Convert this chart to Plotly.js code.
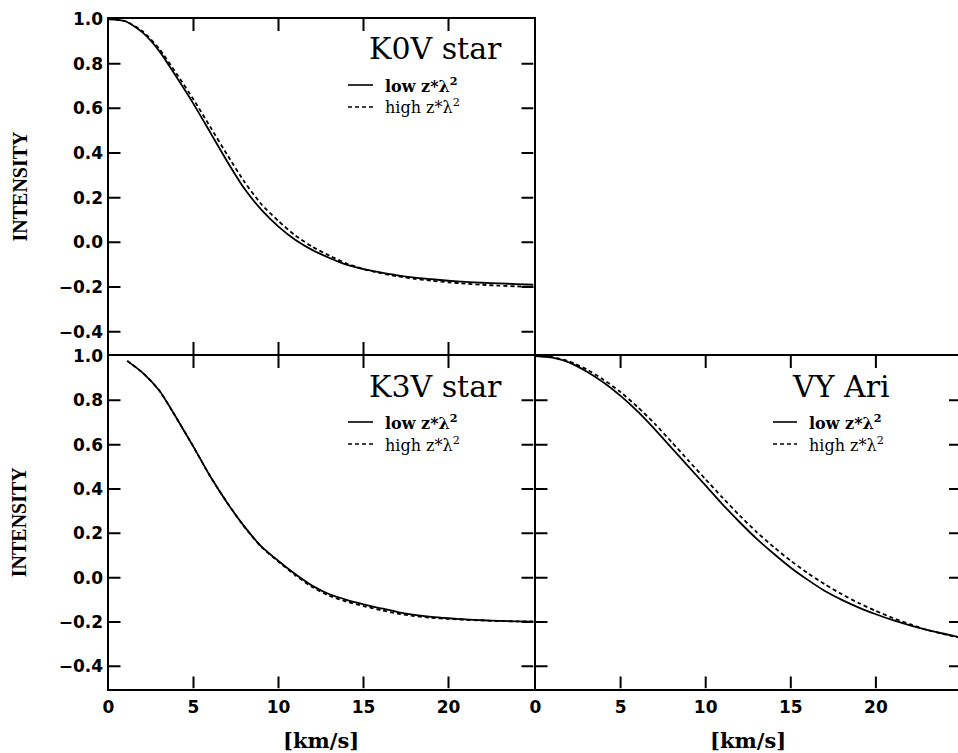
<!DOCTYPE html>
<html>
<head>
<meta charset="utf-8">
<script src="https://cdn.plot.ly/plotly-3.0.1.min.js"></script>
<style>
html, body { margin: 0; padding: 0; overflow: hidden; background: #fff; }
#chart { width: 962px; height: 753px; }
</style>
</head>
<body>
<div id="chart"></div>
<script>
// ---- Data ----
const xGrid = [0,1,2,3,4,5,6,7,8,9,10,11,12,13,14,15,16,17,18,19,20,21,22,23,24,25];

const k0vLow  = [1.000,0.990,0.940,0.855,0.740,0.620,0.490,0.360,0.240,0.145,0.070,0.010,-0.035,-0.070,-0.100,-0.120,-0.135,-0.148,-0.158,-0.165,-0.172,-0.177,-0.181,-0.184,-0.187,-0.190];
const k0vHigh = [1.000,0.990,0.945,0.865,0.755,0.640,0.515,0.390,0.270,0.170,0.095,0.030,-0.020,-0.060,-0.095,-0.120,-0.138,-0.152,-0.163,-0.172,-0.179,-0.185,-0.190,-0.194,-0.197,-0.200];

const k3vX    = [1.1,2,3,4,5,6,7,8,9,10,11,12,13,14,15,16,17,18,19,20,21,22,23,24,25];
const k3vLow  = [0.978,0.925,0.843,0.720,0.590,0.455,0.336,0.230,0.140,0.075,0.015,-0.037,-0.075,-0.100,-0.120,-0.138,-0.155,-0.168,-0.177,-0.183,-0.188,-0.192,-0.195,-0.197,-0.198];
const k3vHigh = [0.978,0.925,0.843,0.720,0.590,0.455,0.336,0.228,0.138,0.072,0.010,-0.043,-0.082,-0.108,-0.128,-0.146,-0.162,-0.173,-0.181,-0.186,-0.190,-0.193,-0.196,-0.197,-0.198];

const vyLow   = [1.000,0.993,0.970,0.930,0.880,0.820,0.750,0.670,0.585,0.500,0.415,0.330,0.250,0.175,0.108,0.045,-0.010,-0.060,-0.100,-0.135,-0.165,-0.192,-0.215,-0.235,-0.253,-0.270];
const vyHigh  = [1.000,0.995,0.975,0.940,0.893,0.837,0.770,0.695,0.612,0.527,0.443,0.360,0.280,0.205,0.138,0.076,0.020,-0.030,-0.075,-0.115,-0.150,-0.182,-0.210,-0.236,-0.255,-0.272];

const panelNames = ["K0V star", "K3V star", "VY Ari"];
const legendLow  = "<b>low z*λ<sup>2</sup></b>";
const legendHigh = "high z*λ<sup>2</sup>";
const xTickVals = [0,5,10,15,20];
const yTickVals = [-0.4,-0.2,0.0,0.2,0.4,0.6,0.8,1.0];
const xRange = [0, 25];
const yRange = [-0.5, 1.0];
const xTitle = "[km/s]";
const yTitle = "INTENSITY";

// ---- Layout geometry (pixels) ----
const W = 962, H = 753;
const px = v => v / W;
const py = v => 1 - v / H;
// domain edges chosen so the outward-drawn 2px axis lines coincide
const LX0 = 108.5, LX1 = 533.5, RX0 = 535.5, RX1 = 961;
const TY0 = 19, TY1 = 354, BY0 = 356, BY1 = 688.5;
const TICKLEN = 12;

const lineSolid = {color: '#000', width: 1.8, shape: 'spline', smoothing: 0.6};
const lineDash  = {color: '#000', width: 1.8, dash: '4px,3px', shape: 'spline', smoothing: 0.6};

const traces = [
  {x: xGrid, y: k0vLow,  xaxis: 'x',  yaxis: 'y',  mode: 'lines', line: lineSolid},
  {x: xGrid, y: k0vHigh, xaxis: 'x',  yaxis: 'y',  mode: 'lines', line: lineDash},
  {x: k3vX,  y: k3vLow,  xaxis: 'x2', yaxis: 'y2', mode: 'lines', line: lineSolid},
  {x: k3vX,  y: k3vHigh, xaxis: 'x2', yaxis: 'y2', mode: 'lines', line: lineDash},
  {x: xGrid, y: vyLow,   xaxis: 'x3', yaxis: 'y3', mode: 'lines', line: lineSolid},
  {x: xGrid, y: vyHigh,  xaxis: 'x3', yaxis: 'y3', mode: 'lines', line: lineDash}
];

const tickFont = {family: 'DejaVu Sans', size: 17, color: '#000', weight: 'bold'};
function baseAxis() {
  return {
    showline: true, linewidth: 2, linecolor: '#000', mirror: true,
    ticks: '', showgrid: false, zeroline: false, tickfont: Object.assign({}, tickFont)
  };
}
const xAx = (dom, anchor, labels) => Object.assign(baseAxis(), {
  domain: dom, anchor: anchor, range: xRange, tickmode: 'array',
  tickvals: xTickVals, showticklabels: labels, ticklabelstandoff: 2
});
const yAx = (dom, anchor, labels) => Object.assign(baseAxis(), {
  domain: dom, anchor: anchor, range: yRange, tickmode: 'array',
  tickvals: yTickVals, tickformat: '.1f', showticklabels: labels
});

const annotations = [];
const shapes = [];

// inward-pointing tick marks on all four edges of a panel, placed through the panel's own axes
function addTicks(xa, ya) {
  const tl = {color: '#000', width: 2};
  xTickVals.filter(v => v > xRange[0] && v < xRange[1]).forEach(v => {
    shapes.push({type: 'line', xref: xa, yref: ya, x0: v, x1: v,
      ysizemode: 'pixel', yanchor: yRange[0], y0: 0, y1: TICKLEN, line: tl});
    shapes.push({type: 'line', xref: xa, yref: ya, x0: v, x1: v,
      ysizemode: 'pixel', yanchor: yRange[1], y0: 0, y1: -TICKLEN, line: tl});
  });
  yTickVals.filter(v => v > yRange[0] && v < yRange[1]).forEach(v => {
    shapes.push({type: 'line', xref: xa, yref: ya, y0: v, y1: v,
      xsizemode: 'pixel', xanchor: xRange[0], x0: 0, x1: TICKLEN, line: tl});
    shapes.push({type: 'line', xref: xa, yref: ya, y0: v, y1: v,
      xsizemode: 'pixel', xanchor: xRange[1], x0: 0, x1: -TICKLEN, line: tl});
  });
}
addTicks('x', 'y');
addTicks('x2', 'y2');
addTicks('x3', 'y3');

function panelText(titleX, lineX0, lineX1, textX, top, name) {
  annotations.push({xref: 'paper', yref: 'paper', x: px(titleX), y: py(top + 31),
    xanchor: 'left', yanchor: 'middle', text: name, showarrow: false,
    font: {family: 'DejaVu Serif', size: 30, color: '#000'}});
  annotations.push({xref: 'paper', yref: 'paper', x: px(textX), y: py(top + 67),
    xanchor: 'left', yanchor: 'middle', text: legendLow, showarrow: false,
    font: {family: 'DejaVu Serif', size: 16, color: '#000'}});
  annotations.push({xref: 'paper', yref: 'paper', x: px(textX), y: py(top + 89),
    xanchor: 'left', yanchor: 'middle', text: legendHigh, showarrow: false,
    font: {family: 'DejaVu Serif', size: 16, color: '#000'}});
  shapes.push({type: 'line', xref: 'paper', yref: 'paper',
    x0: px(lineX0), x1: px(lineX1), y0: py(top + 67), y1: py(top + 67),
    line: {color: '#000', width: 1.6}});
  shapes.push({type: 'line', xref: 'paper', yref: 'paper',
    x0: px(lineX0), x1: px(lineX1), y0: py(top + 89), y1: py(top + 89),
    line: {color: '#000', width: 1.6, dash: '4px,3px'}});
}
panelText(367, 348, 373, 383, 18, panelNames[0]);
panelText(367, 348, 373, 383, 355, panelNames[1]);
panelText(790, 773, 797, 807, 355, panelNames[2]);

[(18 + 355) / 2, (355 + 689.5) / 2].forEach(cy => {
  annotations.push({xref: 'paper', yref: 'paper', x: px(19), y: py(cy),
    xanchor: 'center', yanchor: 'middle', text: yTitle, textangle: -90, showarrow: false,
    font: {family: 'Liberation Serif', size: 20, color: '#000', weight: 'bold'}});
});
[(107.5 + 534.5) / 2, (534.5 + 961.5) / 2].forEach(cx => {
  annotations.push({xref: 'paper', yref: 'paper', x: px(cx), y: py(740),
    xanchor: 'center', yanchor: 'middle', text: xTitle, showarrow: false,
    font: {family: 'DejaVu Serif', size: 21, color: '#000', weight: 'bold'}});
});

const layout = {
  width: W, height: H,
  margin: {l: 0, r: 0, t: 0, b: 0, pad: 0},
  paper_bgcolor: '#fff', plot_bgcolor: 'rgba(0,0,0,0)',
  showlegend: false,
  xaxis:  xAx([px(LX0), px(LX1)], 'y', false),
  yaxis:  yAx([py(TY1), py(TY0)], 'x', true),
  xaxis2: xAx([px(LX0), px(LX1)], 'y2', true),
  yaxis2: yAx([py(BY1), py(BY0)], 'x2', true),
  xaxis3: xAx([px(RX0), px(RX1)], 'y3', true),
  yaxis3: yAx([py(BY1), py(BY0)], 'x3', false),
  annotations: annotations,
  shapes: shapes
};

Plotly.newPlot('chart', traces, layout, {displayModeBar: false, staticPlot: true});
</script>
</body>
</html>
